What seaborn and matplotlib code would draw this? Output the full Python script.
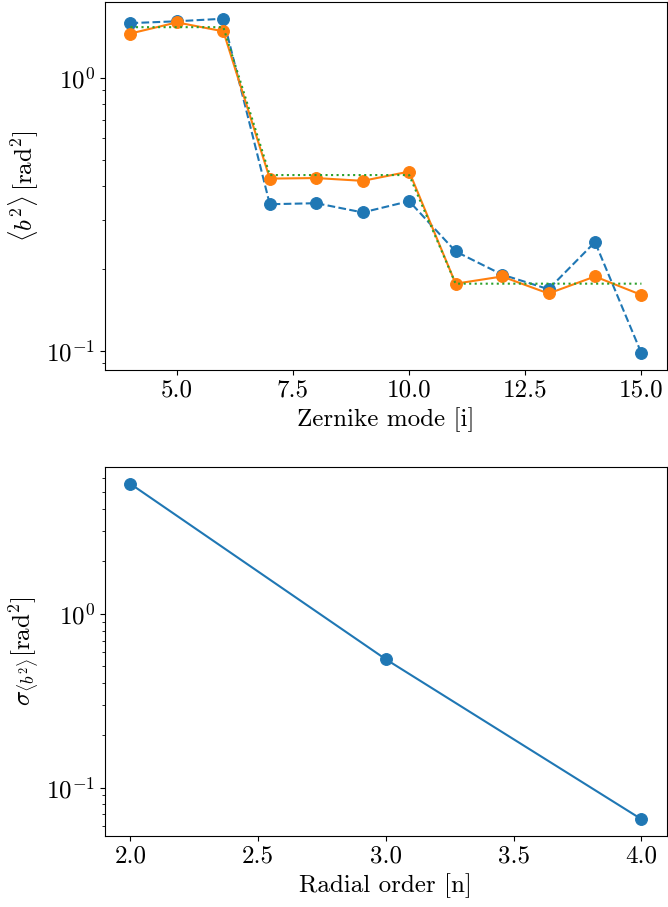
import numpy as np
import pandas as pd
import matplotlib
matplotlib.use("Agg")
import matplotlib.pyplot as plt
import seaborn as sns

plt.rcParams.update({
    "font.family": "serif",
    "font.serif": ["cmr10"],
    "mathtext.fontset": "cm",
    "axes.formatter.use_mathtext": True,
    "axes.unicode_minus": True,
    "font.size": 18,
})

# ---- data ----
modes = [4, 5, 6, 7, 8, 9, 10, 11, 12, 13, 14, 15]
measured = [1.585, 1.61, 1.645, 0.344, 0.347, 0.321, 0.353, 0.231, 0.190, 0.168, 0.250, 0.0978]
fitted = [1.452, 1.595, 1.479, 0.427, 0.429, 0.419, 0.453, 0.176, 0.187, 0.162, 0.187, 0.160]
order_mean = [1.532, 1.532, 1.532, 0.440, 0.440, 0.440, 0.440, 0.176, 0.176, 0.176, 0.176, 0.176]
mode_ticks = [5.0, 7.5, 10.0, 12.5, 15.0]

radial_order = [2.0, 3.0, 4.0]
sigma = [5.58, 0.546, 0.0657]
order_ticks = [2.0, 2.5, 3.0, 3.5, 4.0]

fig = plt.figure(figsize=(6.68, 9.07), dpi=100)
ax1 = fig.add_axes([0.157, 0.592, 0.8415, 0.4058])
ax2 = fig.add_axes([0.157, 0.0783, 0.8415, 0.4067])

sns.lineplot(x=modes, y=measured, ax=ax1, color="C0", linestyle="--", marker="o",
             markersize=8.5, markeredgecolor="C0", linewidth=1.5)
sns.lineplot(x=modes, y=fitted, ax=ax1, color="C1", linestyle="-", marker="o",
             markersize=8.5, markeredgecolor="C1", linewidth=1.5)
sns.lineplot(x=modes, y=order_mean, ax=ax1, color="C2", linestyle=":", linewidth=1.5)
ax1.set_yscale("log")
ax1.set_xticks(mode_ticks)
ax1.set_xticklabels([f"{t:.1f}" for t in mode_ticks])
ax1.set_xlabel("Zernike mode [i]")
ax1.set_ylabel(r"$\langle b^2\rangle\,[\mathrm{rad}^2]$")

sns.lineplot(x=radial_order, y=sigma, ax=ax2, color="C0", linestyle="-", marker="o",
             markersize=8.5, markeredgecolor="C0", linewidth=1.5)
ax2.set_yscale("log")
ax2.set_xticks(order_ticks)
ax2.set_xticklabels([f"{t:.1f}" for t in order_ticks])
ax2.set_xlabel("Radial order [n]")
ax2.set_ylabel(r"$\sigma_{\langle b^2\rangle}[\mathrm{rad}^2]$")

for ax in (ax1, ax2):
    ax.tick_params(labelsize=18)

fig.savefig("out.png", dpi=100)
